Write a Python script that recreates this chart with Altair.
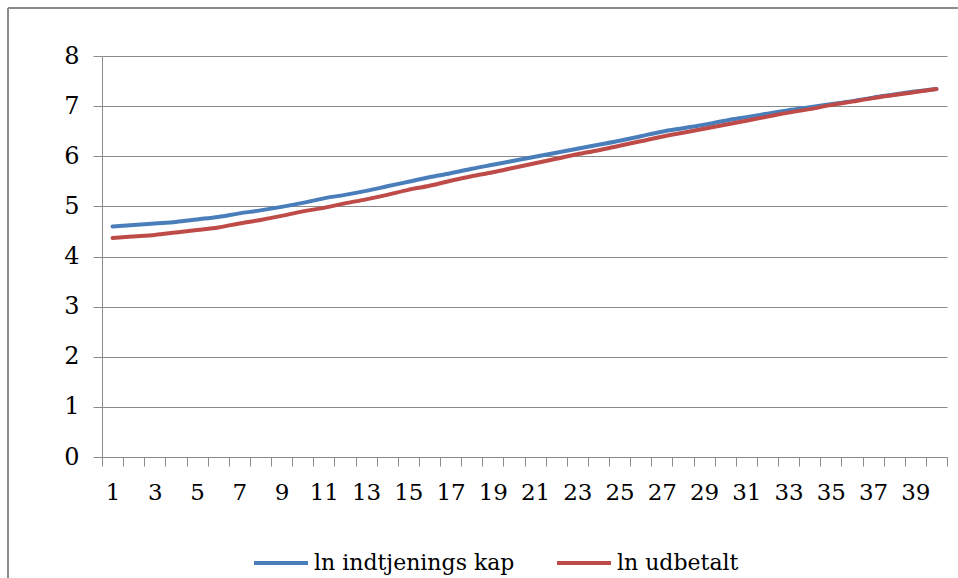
import altair as alt
import pandas as pd

# Period index on the x axis
periods = list(range(1, 41))

# ln of earning capacity, per period
indtjening = [4.60, 4.63, 4.66, 4.69, 4.74, 4.79, 4.86, 4.92, 4.99, 5.07,
              5.16, 5.23, 5.31, 5.40, 5.49, 5.58, 5.66, 5.75, 5.83, 5.91,
              5.99, 6.07, 6.15, 6.23, 6.31, 6.40, 6.49, 6.56, 6.63, 6.71,
              6.78, 6.85, 6.92, 6.98, 7.04, 7.10, 7.17, 7.23, 7.29, 7.34]

# ln of amount paid out, per period
udbetalt = [4.37, 4.40, 4.43, 4.48, 4.53, 4.58, 4.66, 4.73, 4.81, 4.90,
            4.97, 5.06, 5.14, 5.23, 5.33, 5.41, 5.51, 5.60, 5.68, 5.77,
            5.86, 5.95, 6.04, 6.12, 6.21, 6.30, 6.39, 6.47, 6.55, 6.63,
            6.71, 6.79, 6.87, 6.94, 7.02, 7.09, 7.16, 7.22, 7.28, 7.34]

series_names = ["ln indtjenings kap", "ln udbetalt"]
series_colors = ["#4a7ebb", "#be4b48"]
y_ticks = list(range(0, 9))

df = pd.DataFrame({
    "periode": periods * 2,
    "vaerdi": indtjening + udbetalt,
    "serie": [series_names[0]] * len(periods) + [series_names[1]] * len(periods),
})

FONT = "DejaVu Serif"
GRAY = "#8a8a8a"

lines = alt.Chart(df).mark_line(
    strokeWidth=4, strokeCap="round", strokeJoin="round", interpolate="monotone"
).encode(
    x=alt.X(
        "periode:O",
        sort=periods,
        bandPosition=0.5,
        scale=alt.Scale(type="band", paddingInner=0, paddingOuter=0),
        axis=alt.Axis(
            title=None,
            labelAngle=0,
            tickBand="extent",
            labelExpr="datum.value % 2 == 1 ? datum.label : ''",
            labelFont=FONT,
            labelFontSize=23,
            labelColor="#000000",
            labelPadding=15,
            tickSize=9,
            tickColor=GRAY,
            domainColor=GRAY,
            grid=False,
        ),
    ),
    y=alt.Y(
        "vaerdi:Q",
        scale=alt.Scale(domain=[0, 8], nice=False, zero=True),
        axis=alt.Axis(
            title=None,
            values=y_ticks,
            labelFont=FONT,
            labelFontSize=24,
            labelColor="#000000",
            labelPadding=14,
            tickSize=9,
            tickColor=GRAY,
            domainColor=GRAY,
            grid=True,
            gridColor=GRAY,
            gridWidth=1,
        ),
    ),
    color=alt.Color(
        "serie:N",
        scale=alt.Scale(domain=series_names, range=series_colors),
        legend=alt.Legend(
            title=None,
            orient="none",
            legendX=150,
            legendY=478,
            direction="horizontal",
            columns=2,
            columnPadding=34,
            symbolType="stroke",
            symbolSize=2916,
            symbolStrokeWidth=4,
            labelFont=FONT,
            labelFontSize=22,
            labelColor="#000000",
            labelOffset=4,
            labelLimit=400,
        ),
    ),
)

# Outer frame of the chart (left and top edges)
frame_df = pd.DataFrame({"k": [0]})
frame_left = alt.Chart(frame_df).mark_rule(color=GRAY, strokeWidth=2).encode(
    x=alt.value(-94), y=alt.value(-48), y2=alt.value(700)
)
frame_top = alt.Chart(frame_df).mark_rule(color=GRAY, strokeWidth=2).encode(
    y=alt.value(-48), x=alt.value(-94), x2=alt.value(1000)
)

chart = alt.layer(frame_left, frame_top, lines).properties(
    width=845,
    height=401,
    autosize=alt.AutoSizeParams(type="none"),
    padding={"left": 102, "top": 56, "right": 11, "bottom": 121},
    background="#ffffff",
).configure(
    font=FONT
).configure_view(
    stroke=None
).configure_legend(
    labelFont=FONT, labelFontSize=22, labelColor="#000000"
)

chart.save("out.html", embed_options={"renderer": "svg", "actions": False})
